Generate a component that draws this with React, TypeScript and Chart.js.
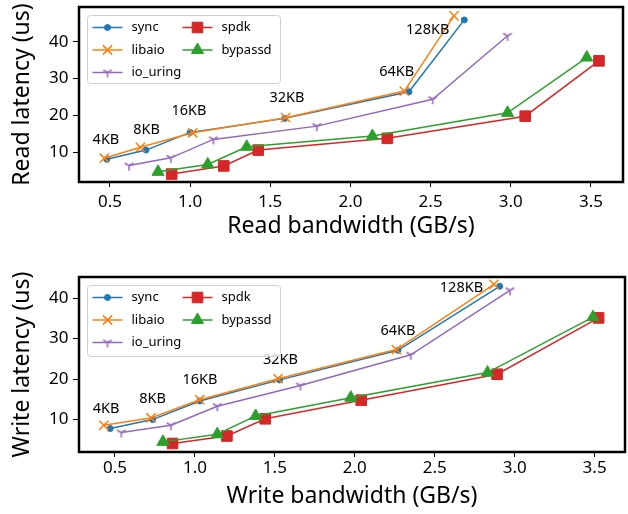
import React, { useEffect, useRef } from 'react';
import { Chart, registerables } from 'chart.js';
import { drawPoint } from 'chart.js/helpers';

Chart.register(...registerables);

const FONT = "'Noto Sans', 'DejaVu Sans', sans-serif";

const seriesNames = ['sync', 'libaio', 'io_uring', 'spdk', 'bypassd'];
const seriesColors = ['#1f77b4', '#ff7f0e', '#9467bd', '#d62728', '#2ca02c'];
const blockSizes = ['4KB', '8KB', '16KB', '32KB', '64KB', '128KB'];

const xTicks = [0.5, 1.0, 1.5, 2.0, 2.5, 3.0, 3.5];
const yTicks = [10, 20, 30, 40];

// Read
const readSyncBw = [0.48, 0.725, 1.0, 1.59, 2.365, 2.71];
const readSyncLat = [8.1, 10.6, 15.4, 19.2, 26.4, 45.9];
const readLibaioBw = [0.465, 0.69, 1.016, 1.596, 2.336, 2.646];
const readLibaioLat = [8.4, 11.35, 15.3, 19.4, 26.6, 47.0];
const readIouringBw = [0.619, 0.88, 1.145, 1.79, 2.513, 2.98];
const readIouringLat = [6.4, 8.5, 13.5, 17.1, 24.4, 41.6];
const readSpdkBw = [0.885, 1.21, 1.425, 2.23, 3.09, 3.55];
const readSpdkLat = [4.1, 6.3, 10.6, 13.8, 19.8, 34.8];
const readBypassdBw = [0.8, 1.11, 1.353, 2.137, 2.98, 3.474];
const readBypassdLat = [4.7, 6.7, 11.5, 14.4, 20.7, 35.7];
const readLabelBw = [0.475, 0.729, 0.993, 1.604, 2.289, 2.482];
const readLabelLat = [13.3, 16.2, 21.2, 24.8, 31.8, 43.3];

// Write
const writeSyncBw = [0.47, 0.735, 1.03, 1.53, 2.27, 2.906];
const writeSyncLat = [7.8, 10.0, 14.6, 19.8, 27.1, 42.9];
const writeLibaioBw = [0.43, 0.725, 1.03, 1.52, 2.26, 2.87];
const writeLibaioLat = [8.6, 10.4, 14.9, 20.1, 27.3, 43.4];
const writeIouringBw = [0.54, 0.85, 1.14, 1.66, 2.35, 2.97];
const writeIouringLat = [6.8, 8.6, 13.3, 18.4, 26.0, 41.9];
const writeSpdkBw = [0.86, 1.2, 1.44, 2.04, 2.89, 3.525];
const writeSpdkLat = [4.1, 5.95, 10.2, 14.8, 21.2, 35.1];
const writeBypassdBw = [0.8, 1.14, 1.38, 1.975, 2.83, 3.49];
const writeBypassdLat = [4.5, 6.4, 10.9, 15.4, 21.6, 35.3];
const writeLabelBw = [0.444, 0.735, 1.031, 1.535, 2.27, 2.667];
const writeLabelLat = [12.55, 15.2, 19.7, 24.8, 32.0, 42.6];

function makeTriDown(color: string): HTMLCanvasElement {
  const c = document.createElement('canvas');
  c.width = 14;
  c.height = 14;
  const g = c.getContext('2d')!;
  const cx = 7, cy = 7, r = 5;
  g.strokeStyle = color;
  g.lineWidth = 1.5;
  g.beginPath();
  g.moveTo(cx, cy); g.lineTo(cx, cy + r);
  g.moveTo(cx, cy); g.lineTo(cx - r * 0.866, cy - r * 0.5);
  g.moveTo(cx, cy); g.lineTo(cx + r * 0.866, cy - r * 0.5);
  g.stroke();
  return c;
}

interface PanelProps {
  bws: number[][];
  lats: number[][];
  labelBw: number[];
  labelLat: number[];
  xTitle: string;
  yTitle: string;
  xMin: number; xMax: number; yMin: number; yMax: number;
  padTop: number; padRight: number; xAxisHeight: number;
  xTickPad: number; xTitlePad: number; legendH: number;
}

function Panel(p: PanelProps) {
  const ref = useRef<HTMLCanvasElement | null>(null);
  useEffect(() => {
    if (!ref.current) return;
    const tri = makeTriDown(seriesColors[2]);
    const styles: any[] = ['circle', 'crossRot', tri, 'rect', 'triangle'];
    const radii = [3, 6.5, 6, 7.5, 7];
    const bws = [1, 1.5, 1, 1, 1];

    const framePlugin = {
      id: 'frame',
      afterDatasetsDraw(chart: any) {
        const { ctx, chartArea: a } = chart;
        ctx.save();
        ctx.strokeStyle = '#000';
        ctx.lineWidth = 2.5;
        ctx.strokeRect(a.left, a.top, a.right - a.left, a.bottom - a.top);
        ctx.restore();
      },
    };
    const annotPlugin = {
      id: 'annot',
      afterDatasetsDraw(chart: any) {
        const { ctx } = chart;
        const xs = chart.scales.x, ys = chart.scales.y;
        ctx.save();
        ctx.fillStyle = '#000';
        ctx.font = `14.5px ${FONT}`;
        ctx.textAlign = 'center';
        ctx.textBaseline = 'middle';
        blockSizes.forEach((t, i) => {
          ctx.fillText(t, xs.getPixelForValue(p.labelBw[i]), ys.getPixelForValue(p.labelLat[i]));
        });
        ctx.restore();
      },
    };
    const legendPlugin = {
      id: 'boxLegend',
      afterDraw(chart: any) {
        const { ctx, chartArea: a } = chart;
        const bx = a.left + 8.5, by = a.top + 8.5, bw = 193, bh = p.legendH, r = 3;
        ctx.save();
        ctx.beginPath();
        ctx.moveTo(bx + r, by);
        ctx.lineTo(bx + bw - r, by);
        ctx.arcTo(bx + bw, by, bx + bw, by + r, r);
        ctx.lineTo(bx + bw, by + bh - r);
        ctx.arcTo(bx + bw, by + bh, bx + bw - r, by + bh, r);
        ctx.lineTo(bx + r, by + bh);
        ctx.arcTo(bx, by + bh, bx, by + bh - r, r);
        ctx.lineTo(bx, by + r);
        ctx.arcTo(bx, by, bx + r, by, r);
        ctx.closePath();
        ctx.fillStyle = 'rgba(255,255,255,0.8)';
        ctx.fill();
        ctx.strokeStyle = '#d0d0d0';
        ctx.lineWidth = 1;
        ctx.stroke();
        chart.data.datasets.forEach((ds: any, i: number) => {
          const col = i < 3 ? 0 : 1;
          const row = i < 3 ? i : i - 3;
          const x0 = bx + (col ? 95 : 5);
          const y = by + 12 + row * 22.5;
          ctx.strokeStyle = ds.borderColor;
          ctx.lineWidth = 1.5;
          ctx.beginPath();
          ctx.moveTo(x0, y);
          ctx.lineTo(x0 + 30, y);
          ctx.stroke();
          ctx.fillStyle = ds.pointBackgroundColor;
          ctx.strokeStyle = ds.pointBorderColor;
          ctx.lineWidth = ds.pointBorderWidth;
          drawPoint(ctx, { pointStyle: ds.pointStyle, rotation: 0, radius: ds.pointRadius, borderWidth: ds.pointBorderWidth } as any, x0 + 15, y);
          ctx.fillStyle = '#000';
          ctx.font = `13px ${FONT}`;
          ctx.textAlign = 'left';
          ctx.textBaseline = 'middle';
          ctx.fillText(ds.label, x0 + 39, y);
        });
        ctx.restore();
      },
    };

    const chart = new Chart(ref.current, {
      type: 'scatter',
      data: {
        datasets: seriesNames.map((name, i) => ({
          label: name,
          data: p.bws[i].map((x, j) => ({ x, y: p.lats[i][j] })),
          showLine: true,
          borderColor: seriesColors[i],
          backgroundColor: seriesColors[i],
          borderWidth: 1.5,
          pointStyle: styles[i],
          pointRadius: radii[i],
          pointHoverRadius: radii[i],
          pointBorderWidth: bws[i],
          pointBackgroundColor: seriesColors[i],
          pointBorderColor: seriesColors[i],
          order: 5 - i,
        })),
      },
      options: {
        animation: false,
        responsive: false,
        devicePixelRatio: 1,
        events: [],
        layout: { autoPadding: false, padding: { top: p.padTop, right: p.padRight, left: 0, bottom: 0 } },
        plugins: { legend: { display: false }, tooltip: { enabled: false } },
        scales: {
          x: {
            type: 'linear',
            min: p.xMin,
            max: p.xMax,
            afterBuildTicks: (s: any) => { s.ticks = xTicks.map((v) => ({ value: v })); },
            afterFit: (s: any) => { s.height = p.xAxisHeight; s.paddingLeft = 0; s.paddingRight = 0; },
            grid: { drawOnChartArea: false, drawTicks: true, tickLength: 5, color: '#000', lineWidth: 1 },
            border: { display: false },
            ticks: {
              font: { family: FONT, size: 17 },
              color: '#000',
              padding: p.xTickPad,
              maxRotation: 0,
              autoSkip: false,
              callback: (v: any) => Number(v).toFixed(1),
            },
            title: { display: true, text: p.xTitle, color: '#000', font: { family: FONT, size: 23 }, padding: { top: 0, bottom: p.xTitlePad } },
          },
          y: {
            type: 'linear',
            min: p.yMin,
            max: p.yMax,
            afterBuildTicks: (s: any) => { s.ticks = yTicks.map((v) => ({ value: v })); },
            afterFit: (s: any) => { s.width = 79; s.paddingTop = 0; s.paddingBottom = 0; },
            grid: { drawOnChartArea: false, drawTicks: true, tickLength: 6, color: '#000', lineWidth: 1 },
            border: { display: false },
            ticks: {
              font: { family: FONT, size: 17 },
              color: '#000',
              padding: 4.5,
              callback: (v: any) => String(v),
            },
            title: { display: true, text: p.yTitle, color: '#000', font: { family: FONT, size: 23 }, padding: { top: 8.7, bottom: 0 } },
          },
        },
      },
      plugins: [framePlugin, annotPlugin, legendPlugin],
    });
    return () => chart.destroy();
  }, []);
  return <canvas ref={ref} width={628} height={257} style={{ display: 'block', width: 628, height: 257 }} />;
}

export default function App() {
  return (
    <div style={{ position: 'absolute', left: 0, top: 0, width: 628, height: 514, background: '#fff' }}>
      <Panel
        bws={[readSyncBw, readLibaioBw, readIouringBw, readSpdkBw, readBypassdBw]}
        lats={[readSyncLat, readLibaioLat, readIouringLat, readSpdkLat, readBypassdLat]}
        labelBw={readLabelBw}
        labelLat={readLabelLat}
        xTitle="Read bandwidth (GB/s)"
        yTitle="Read latency (us)"
        xMin={0.307} xMax={3.70} yMin={1.95} yMax={49.4}
        padTop={7} padRight={5} xAxisHeight={75}
        xTickPad={5.3} xTitlePad={17} legendH={68}
      />
      <Panel
        bws={[writeSyncBw, writeLibaioBw, writeIouringBw, writeSpdkBw, writeBypassdBw]}
        lats={[writeSyncLat, writeLibaioLat, writeIouringLat, writeSpdkLat, writeBypassdLat]}
        labelBw={writeLabelBw}
        labelLat={writeLabelLat}
        xTitle="Write bandwidth (GB/s)"
        yTitle="Write latency (us)"
        xMin={0.275} xMax={3.69} yMin={2.0} yMax={45.2}
        padTop={20} padRight={3} xAxisHeight={62}
        xTickPad={1} xTitlePad={4} legendH={71}
      />
    </div>
  );
}
